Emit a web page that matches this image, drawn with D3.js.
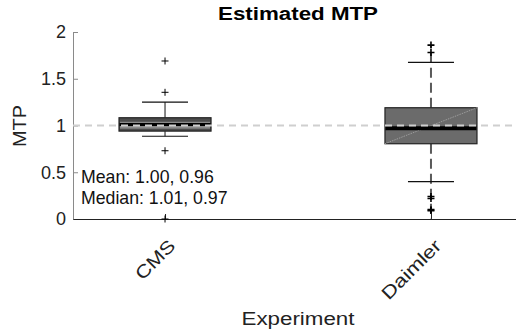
<!DOCTYPE html>
<html>
<head>
<meta charset="utf-8">
<script src="https://cdn.jsdelivr.net/npm/d3@7"></script>
<style>
  html, body { margin: 0; padding: 0; background: #fff; }
  svg { display: block; font-family: "Liberation Sans", Arial, sans-serif; }
</style>
</head>
<body>
<svg id="chart" width="516" height="336"></svg>
<script>
// Experiments and their box statistics
const experiments = ["CMS", "Daimler"];
const q1 = [0.94, 0.805];
const q3 = [1.083, 1.19];
const medians = [1.01, 0.97];
const means = [1.00, 0.96];
const whiskerLo = [0.885, 0.40];
const whiskerHi = [1.25, 1.676];
const ciLo = [0.966, null];
const ciHi = [1.04, null];
const rangeLo = [null, 0.0];
const rangeHi = [null, 1.86];
const outliers = [
  [1.69, 1.355, 0.73, 0.0],
  [1.86, 1.78, 0.24, 0.22, 0.10, 0.09]
];
const yTicks = [0, 0.5, 1, 1.5, 2];
const referenceValue = 1;

const svg = d3.select("#chart");
const plotLeft = 73, plotRight = 523, plotTop = 32, plotBottom = 219;
const fontFamily = "Liberation Sans, Arial, sans-serif";

const x = d3.scaleLinear().domain([0.654, 2.346]).range([plotLeft, plotRight]);
const y = d3.scaleLinear().domain([0, 2]).range([plotBottom, plotTop]);
const boxHalf = 0.173, capHalf = 0.0865, plusSize = 3.5;

// y axis
const yAxis = svg.append("g")
  .attr("transform", `translate(${plotLeft},0)`)
  .call(d3.axisLeft(y).tickValues(yTicks).tickFormat(d3.format("")).tickSizeInner(-5).tickSizeOuter(0).tickPadding(7));
yAxis.select(".domain").attr("stroke", "#8a8a8a");
yAxis.selectAll(".tick line").attr("stroke", "#8a8a8a");
yAxis.selectAll(".tick text").attr("font-size", 18).attr("fill", "#222").attr("font-family", fontFamily);

// x axis with slanted category labels
const xLabelWidths = [48, 76];
const xAxis = svg.append("g")
  .attr("transform", `translate(0,${plotBottom})`)
  .call(d3.axisBottom(x).tickValues([1, 2]).tickFormat((d, i) => experiments[i]).tickSizeInner(-5).tickSizeOuter(0).tickPadding(0));
xAxis.select(".domain").attr("stroke", "#222");
xAxis.selectAll(".tick line").attr("stroke", "#222");
xAxis.selectAll(".tick text")
  .attr("font-size", 18).attr("fill", "#222").attr("font-family", fontFamily)
  .attr("text-anchor", "end")
  .attr("y", 0).attr("dy", 0)
  .attr("textLength", (d, i) => xLabelWidths[i]).attr("lengthAdjust", "spacingAndGlyphs")
  .attr("transform", "translate(11,28) rotate(-45)");

const g = svg.append("g");

experiments.forEach((name, i) => {
  const cx = x(i + 1);
  const bx0 = x(i + 1 - boxHalf), bx1 = x(i + 1 + boxHalf);
  const cx0 = x(i + 1 - capHalf), cx1 = x(i + 1 + capHalf);
  const dashed = i === 1;

  // whisker stems
  const stemAttrs = sel => dashed
    ? sel.attr("stroke", "#5a5a5a").attr("stroke-width", 2).attr("stroke-dasharray", "10,5")
    : sel.attr("stroke", "#111").attr("stroke-width", 1);
  if (rangeLo[i] !== null) {
    g.append("line").attr("x1", cx).attr("x2", cx).attr("y1", y(q1[i])).attr("y2", y(rangeLo[i])).call(stemAttrs);
    g.append("line").attr("x1", cx).attr("x2", cx).attr("y1", y(q3[i])).attr("y2", y(rangeHi[i])).call(stemAttrs);
  } else {
    g.append("line").attr("x1", cx).attr("x2", cx).attr("y1", y(q1[i])).attr("y2", y(whiskerLo[i])).call(stemAttrs);
    g.append("line").attr("x1", cx).attr("x2", cx).attr("y1", y(q3[i])).attr("y2", y(whiskerHi[i])).call(stemAttrs);
  }
  // caps
  [whiskerLo[i], whiskerHi[i]].forEach(v => {
    g.append("line").attr("x1", cx0).attr("x2", cx1).attr("y1", y(v)).attr("y2", y(v))
      .attr("stroke", "#111").attr("stroke-width", 1.2);
  });

  // box
  g.append("rect")
    .attr("x", bx0).attr("width", bx1 - bx0)
    .attr("y", y(q3[i])).attr("height", y(q1[i]) - y(q3[i]))
    .attr("fill", dashed ? "#6b6b6b" : "#4c4c4c")
    .attr("stroke", "#222").attr("stroke-width", 1.2);
  if (ciLo[i] !== null) {
    g.append("rect")
      .attr("x", bx0 + 1).attr("width", bx1 - bx0 - 2)
      .attr("y", y(ciHi[i])).attr("height", y(ciLo[i]) - y(ciHi[i]))
      .attr("fill", "#8a8a8a");
  }
  if (dashed) {
    g.append("line")
      .attr("x1", bx0).attr("y1", y(q1[i])).attr("x2", bx1).attr("y2", y(q3[i]))
      .attr("stroke", "#a8a8a8").attr("stroke-width", 0.8).attr("stroke-dasharray", "1.5,1");
  }
  // median
  g.append("line").attr("x1", bx0 + 0.5).attr("x2", bx1 - 0.5).attr("y1", y(medians[i])).attr("y2", y(medians[i]))
    .attr("stroke", "#000").attr("stroke-width", dashed ? 4 : 3);

  // outliers
  outliers[i].forEach(v => {
    const py = y(v);
    g.append("path")
      .attr("d", `M${cx - plusSize},${py}H${cx + plusSize}M${cx},${py - plusSize}V${py + plusSize}`)
      .attr("stroke", "#000").attr("stroke-width", dashed ? 1.6 : 1).attr("fill", "none");
  });
});

// reference line at MTP = 1
g.append("line")
  .attr("x1", plotLeft).attr("x2", plotRight)
  .attr("y1", y(referenceValue)).attr("y2", y(referenceValue))
  .attr("stroke", "#cfcfcf").attr("stroke-width", 2.2).attr("stroke-dasharray", "7,5");

// annotations
const fmt = d3.format(".2f");
svg.append("text").attr("x", 81).attr("y", 183).attr("font-size", 17.7).attr("fill", "#111")
  .text(`Mean: ${fmt(means[0])}, ${fmt(means[1])}`);
svg.append("text").attr("x", 81).attr("y", 204).attr("font-size", 17.7).attr("fill", "#111")
  .text(`Median: ${fmt(medians[0])}, ${fmt(medians[1])}`);

// titles
const midX = (plotLeft + plotRight) / 2;
svg.append("text").attr("x", midX).attr("y", 20).attr("text-anchor", "middle")
  .attr("font-size", 18).attr("font-weight", "bold").attr("fill", "#000")
  .attr("textLength", 160).attr("lengthAdjust", "spacingAndGlyphs").text("Estimated MTP");
svg.append("text").attr("x", midX).attr("y", 325).attr("text-anchor", "middle")
  .attr("font-size", 18).attr("fill", "#222")
  .attr("textLength", 113).attr("lengthAdjust", "spacingAndGlyphs").text("Experiment");
svg.append("text").attr("transform", `translate(25.5,126) rotate(-90)`).attr("text-anchor", "middle")
  .attr("font-size", 18).attr("fill", "#222")
  .attr("textLength", 42).attr("lengthAdjust", "spacingAndGlyphs").text("MTP");
</script>
</body>
</html>
